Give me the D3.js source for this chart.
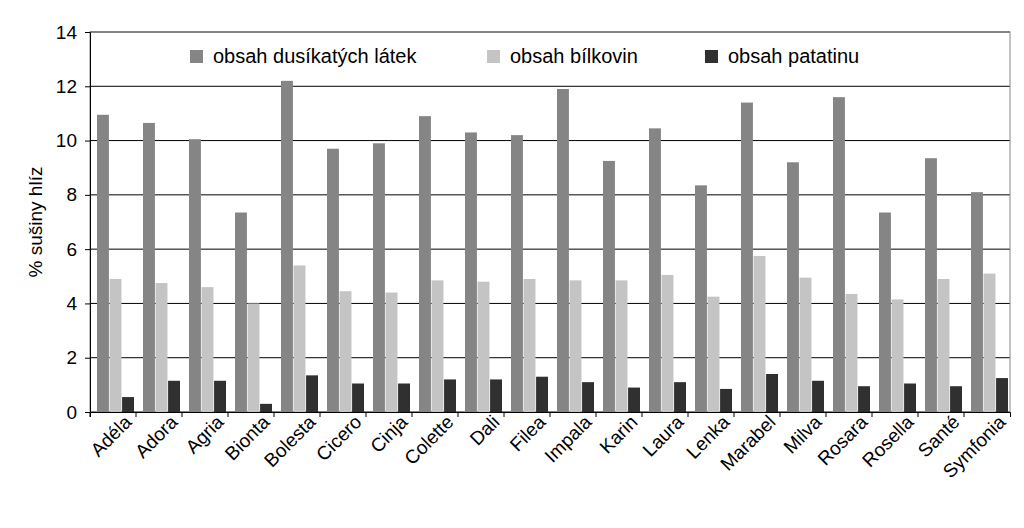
<!DOCTYPE html>
<html><head><meta charset="utf-8">
<script src="https://cdn.jsdelivr.net/npm/d3@7"></script>
<style>body{margin:0;background:#fff}text{font-family:Arial,"Liberation Sans",sans-serif}</style>
</head><body><svg id="chart" width="1024" height="528"></svg>
<script>
// odrůdy a hodnoty
var odrudy = ['Adéla','Adora','Agria','Bionta','Bolesta','Cicero','Cinja','Colette','Dali','Filea',
  'Impala','Karin','Laura','Lenka','Marabel','Milva','Rosara','Rosella','Santé','Symfonia'];
var dusikate = [10.95,10.65,10.05,7.35,12.2,9.7,9.9,10.9,10.3,10.2,11.9,9.25,10.45,8.35,11.4,9.2,11.6,7.35,9.35,8.1];
var bilkoviny = [4.9,4.75,4.6,4.0,5.4,4.45,4.4,4.85,4.8,4.9,4.85,4.85,5.05,4.25,5.75,4.95,4.35,4.15,4.9,5.1];
var patatin = [0.55,1.15,1.15,0.3,1.35,1.05,1.05,1.2,1.2,1.3,1.1,0.9,1.1,0.85,1.4,1.15,0.95,1.05,0.95,1.25];
var serie = ['obsah dusíkatých látek','obsah bílkovin','obsah patatinu'];
var barvy = ['#858585','#c4c4c4','#303030'];
var yTicks = [0,2,4,6,8,10,12,14];

var svg = d3.select('#chart');
var m = {l:90, r:1010, t:32, b:412};
var x = d3.scaleBand().domain(odrudy).range([m.l, m.r]);
var xs = d3.scaleBand().domain([0,1,2]).range([7, 44]).paddingInner(0.05);
var y = d3.scaleLinear().domain([0,14]).range([m.b, m.t]);

svg.append('g').selectAll('line').data(yTicks).enter().append('line')
  .attr('x1', m.l).attr('x2', m.r).attr('y1', function(d){return y(d)}).attr('y2', function(d){return y(d)})
  .attr('stroke', '#000').attr('stroke-width', 1);
svg.append('rect').attr('x', m.l).attr('y', m.t).attr('width', m.r-m.l).attr('height', m.b-m.t)
  .attr('fill', 'none').attr('stroke', '#888');

var yAxis = svg.append('g').attr('transform', 'translate(' + m.l + ',0)')
  .call(d3.axisLeft(y).tickValues(yTicks).tickSize(5).tickPadding(8));
yAxis.select('.domain').attr('stroke', '#000');
yAxis.selectAll('text').attr('font-size', 19).attr('fill', '#000');

var data = [dusikate, bilkoviny, patatin];
data.forEach(function(vals, s){
  svg.append('g').selectAll('rect').data(vals).enter().append('rect')
    .attr('x', function(d, i){return x(odrudy[i]) + xs(s)})
    .attr('width', xs.bandwidth())
    .attr('y', function(d){return y(d)})
    .attr('height', function(d){return y(0) - y(d)})
    .attr('fill', barvy[s]);
});

var xAxis = svg.append('g').attr('transform', 'translate(0,' + m.b + ')')
  .call(d3.axisBottom(x).tickSize(5));
xAxis.select('.domain').attr('stroke', '#000');
xAxis.selectAll('.tick line').attr('transform', 'translate(' + (-x.bandwidth()/2) + ',0)');
xAxis.selectAll('text').attr('font-size', 19).attr('fill', '#000')
  .attr('text-anchor', 'end').attr('dx', '6').attr('dy', '14')
  .attr('transform', 'rotate(-45)');

svg.append('text').attr('transform', 'translate(42,' + ((m.t+m.b)/2) + ') rotate(-90)')
  .attr('text-anchor', 'middle').attr('font-size', 19).text('% sušiny hlíz');

var legX = [190, 487, 705];
serie.forEach(function(n, i){
  var g = svg.append('g').attr('transform', 'translate(' + legX[i] + ',63)');
  g.append('rect').attr('x', 0).attr('y', -13).attr('width', 13).attr('height', 13).attr('fill', barvy[i]);
  g.append('text').attr('x', 23).attr('y', 0).attr('font-size', 20).text(n);
});
</script></body></html>
